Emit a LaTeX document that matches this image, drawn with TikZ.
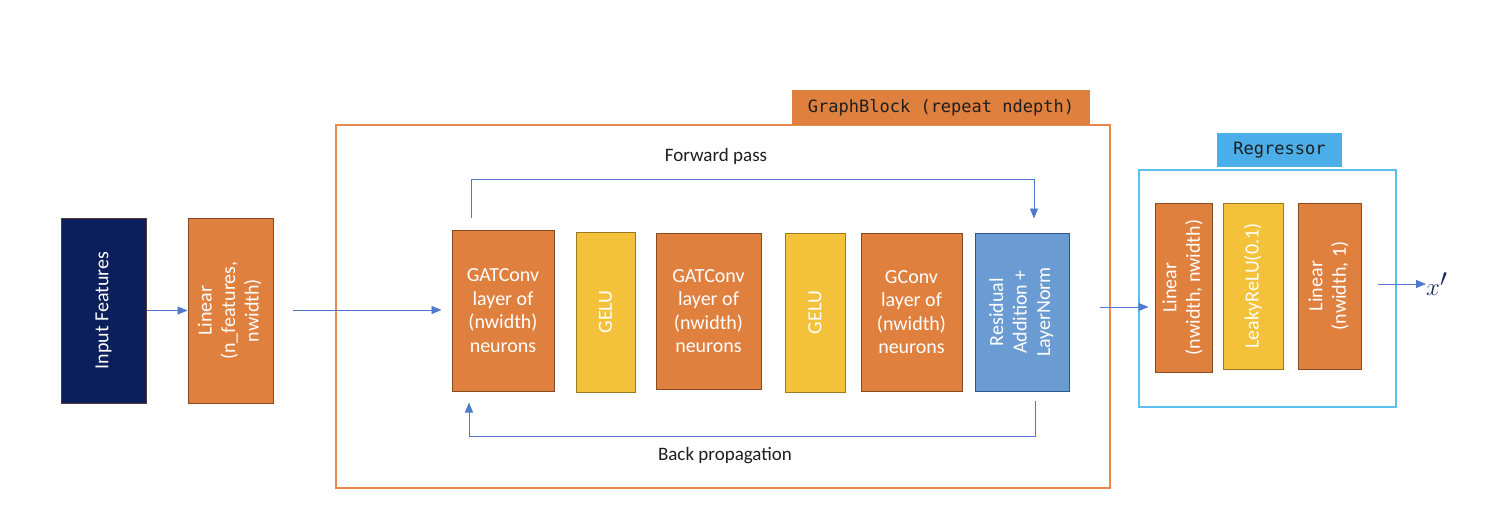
\documentclass[tikz,border=0pt]{standalone}
\usepackage{fontspec}
\setmainfont{Carlito}
\newfontfamily\monofont{DejaVu Sans Mono}
\usetikzlibrary{arrows.meta,calc}
\definecolor{orfill}{HTML}{E0803F}
\definecolor{orline}{HTML}{8A4A20}
\definecolor{navy}{HTML}{0B1F5C}
\definecolor{yelfill}{HTML}{F4C13A}
\definecolor{yelline}{HTML}{9A7A20}
\definecolor{bluefill}{HTML}{6B9BD3}
\definecolor{blueline}{HTML}{2F5597}
\definecolor{arrblue}{HTML}{5078CC}
\definecolor{gbline}{HTML}{E8884A}
\definecolor{regline}{HTML}{5BC0F0}
\definecolor{regfill}{HTML}{4BAEE8}
\definecolor{labtext}{HTML}{1E1E1E}
\definecolor{xptext}{HTML}{1A2A5A}
\begin{document}
\begin{tikzpicture}[x=1pt,y=-1pt,
  boxbase/.style={draw, line width=1pt, inner sep=0pt, text=white, align=center,
    font=\fontsize{20}{23.5}\selectfont},
  orbox/.style={boxbase, fill=orfill, draw=orline},
  yelbox/.style={boxbase, fill=yelfill, draw=yelline},
  resbox/.style={boxbase, fill=bluefill, draw=blueline},
  navybox/.style={boxbase, fill=navy, draw=orline!60!navy},
  arr/.style={draw=arrblue, line width=0.9pt, -{Triangle[length=10pt,width=8pt]}},
  frameline/.style={line width=2.5pt},
  tag/.style={inner sep=0pt, text=labtext, font=\monofont\fontsize{17}{20}\selectfont},
  caption/.style={inner sep=0pt, text=labtext, font=\fontsize{19}{22}\selectfont}
]
\useasboundingbox (0,0) rectangle (1500,532);
\fill[white] (0,0) rectangle (1500,532);

% frames
\draw[frameline, draw=gbline] (336,125) rectangle (1110,488);
\node[tag, fill=orfill, minimum width=298pt, minimum height=35pt] (gbtag) at (941,107.5) {GraphBlock (repeat ndepth)};
\draw[frameline, draw=regline] (1139,170) rectangle (1396,407);
\node[tag, fill=regfill, minimum width=125pt, minimum height=34pt] (regtag) at (1279.5,150) {Regressor};

% boxes
\node[navybox, minimum width=85pt, minimum height=185pt] (in) at (103.5,310.5)
  {\rotatebox{90}{Input Features}};
\node[orbox, minimum width=85pt, minimum height=185pt] (lin) at (230.5,310.5)
  {\rotatebox{90}{\begin{tabular}{@{}c@{}}Linear\\(n\_features,\\nwidth)\end{tabular}}};

\node[orbox, minimum width=102pt, minimum height=161pt] (gat1) at (503,310.5)
  {GATConv\\layer of\\(nwidth)\\neurons};
\node[yelbox, minimum width=59pt, minimum height=160pt] (gelu1) at (605.5,312)
  {\rotatebox{90}{GELU}};
\node[orbox, minimum width=105pt, minimum height=156pt] (gat2) at (708.5,311)
  {GATConv\\layer of\\(nwidth)\\neurons};
\node[yelbox, minimum width=60pt, minimum height=159pt] (gelu2) at (815,312.5)
  {\rotatebox{90}{GELU}};
\node[orbox, minimum width=101pt, minimum height=158pt] (gconv) at (911.5,312)
  {GConv\\layer of\\(nwidth)\\neurons};
\node[resbox, minimum width=94pt, minimum height=158pt] (res) at (1022,312)
  {\rotatebox{90}{\begin{tabular}{@{}c@{}}Residual\\Addition +\\LayerNorm\end{tabular}}};

\node[orbox, minimum width=57pt, minimum height=169pt] (rlin1) at (1183.5,287.5)
  {\rotatebox{90}{\begin{tabular}{@{}c@{}}Linear\\(nwidth, nwidth)\end{tabular}}};
\node[yelbox, minimum width=60pt, minimum height=166pt] (leaky) at (1253,286)
  {\rotatebox{90}{LeakyReLU(0.1)}};
\node[orbox, minimum width=63pt, minimum height=166pt] (rlin2) at (1329.5,286)
  {\rotatebox{90}{\begin{tabular}{@{}c@{}}Linear\\(nwidth, 1)\end{tabular}}};

\node[inner sep=0pt, anchor=west, text=xptext] (xp) at (1426,284)
  {\fontsize{36}{40}\selectfont$x'$};

% captions
\node[caption] (fwd) at (716,156) {Forward pass};
\node[caption] (bwd) at (725,456) {Back propagation};

% connectors
\draw[arr] (in.east) -- (lin.west);
\coordinate (a1) at (293,310);
\draw[arr, shorten >=10pt] (a1) -- (a1 -| gat1.west);
\coordinate (fwdtop) at (1034,179);
\draw[arr] ([xshift=-32pt,yshift=12pt]gat1.north) |- (fwdtop) -- ([xshift=12pt,yshift=14pt]res.north);
\coordinate (bkcorner) at (469,436);
\draw[arr] ([xshift=13pt,yshift=-9pt]res.south) |- (bkcorner) -- ([xshift=-34pt,yshift=-11pt]gat1.south);
\coordinate (a3) at (1100,307);
\draw[arr, shorten >=6pt] (a3) -- (a3 -| rlin1.west);
\draw[arr] ([xshift=16pt]rlin2.east |- xp.west) -- (xp.west);
\end{tikzpicture}
\end{document}
